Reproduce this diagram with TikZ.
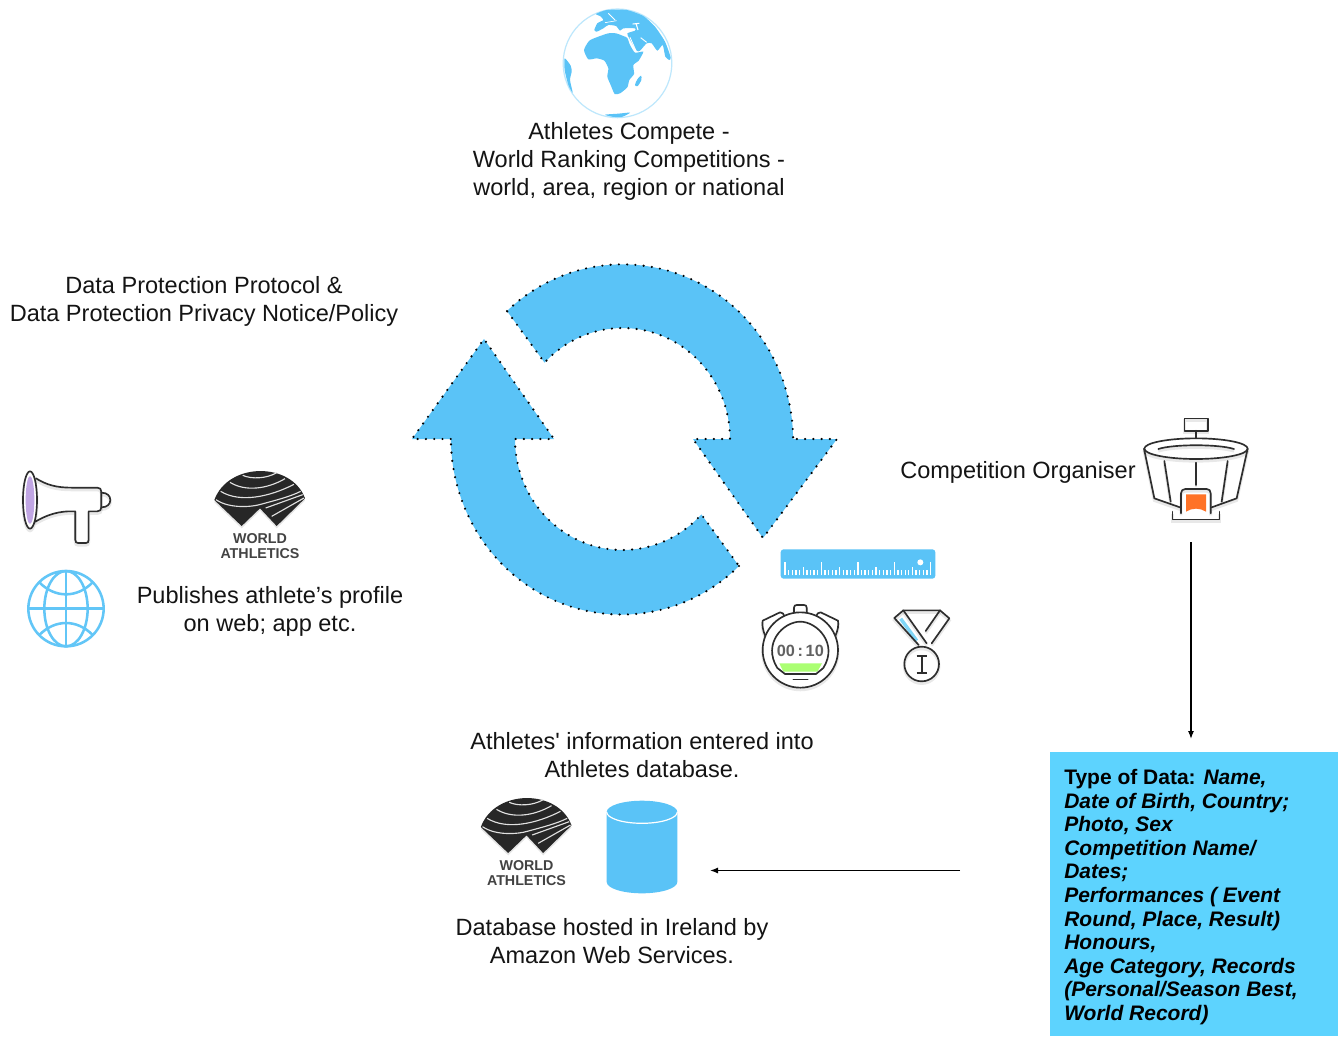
\documentclass[tikz,border=0pt]{standalone}
\usepackage{fontspec}
\usetikzlibrary{arrows.meta}
\setmainfont{Liberation Sans}
\newfontfamily\rawfam{Liberation Sans}
\definecolor{arrowblue}{HTML}{5AC3F7}
\definecolor{boxblue}{HTML}{5DD3FE}
\definecolor{ink}{HTML}{2E2E2E}
\tikzset{
  lbl/.style={font=\fontsize{17.65}{20.7}\selectfont,align=center,inner sep=0pt,text=black!92},
  cycleshape/.style={fill=arrowblue,draw=black,line width=1.8pt,line cap=round,dash pattern=on 0pt off 6.2pt},
  iconline/.style={draw=ink,line width=1.25pt,line join=round,line cap=round,
    preaction={draw=black,opacity=.09,line width=2.2pt,transform canvas={yshift=-1.6pt}}},
  flow/.style={draw=black,line width=.9pt,-{Latex[length=6pt,width=4.5pt]}},
  wlbl/.style={inner sep=0pt,align=center,text=ink!90,font=\fontsize{10.7}{11.2}\selectfont\bfseries}
}
\newcommand{\walogo}[3]{%
  \begin{scope}[shift={(#1,#2)},scale=1/3]
    \fill[black,opacity=.10] (643,157) .. controls (685,42) and (875,42) .. (915,152) -- (830,235) -- (780,182) -- (725,235) -- cycle;
    \fill[ink!85!black] (643,150) .. controls (685,35) and (875,35) .. (915,145) -- (830,228) -- (780,175) -- (725,228) -- cycle;
    \begin{scope}[draw=white!88!black,line width=.85pt]
      \draw (728,76) .. controls (755,88) and (800,86) .. (830,68);
      \draw (690,97) .. controls (735,125) and (800,118) .. (855,86);
      \draw (662,124) .. controls (720,160) and (810,140) .. (882,103);
      \draw (648,149) .. controls (690,178) and (760,170) .. (782,163) .. controls (830,150) and (870,140) .. (902,124);
      \draw (797,174) -- (908,134);
      \draw (815,199) -- (912,144);
    \end{scope}
    \node[wlbl] (#3) at (780,289) {WORLD\\ATHLETICS};
  \end{scope}}
\begin{document}
\begin{tikzpicture}[x=.75pt,y=.75pt,yscale=-1]
\useasboundingbox (0,0) rectangle (1343,1036);
\fill[white] (0,0) rectangle (1343,1036);

% ---------- globe
\begin{scope}[shift={(540,0)},scale=1/3]
  \draw[draw=arrowblue!40,line width=.9pt] (232.5,190) circle[radius=163];
  \fill[arrowblue] plot[smooth cycle,tension=.35] coordinates {(168,42)(200,30)(260,30)(310,48)(345,80)(375,125)(392,172)(388,180)(376,170)(368,135)(352,152)(335,130)(320,130)(300,152)(290,152)(268,115)(262,100)(285,92)(285,85)(250,85)(240,92)(228,78)(205,75)(190,85)(170,95)(163,90)(172,70)(190,60)(180,48)};
  \fill[arrowblue] plot[smooth cycle,tension=.35] coordinates {(132,150)(148,122)(175,110)(205,100)(228,100)(250,108)(262,114)(270,135)(285,158)(310,155)(296,182)(280,195)(282,222)(268,240)(262,262)(240,280)(224,282)(212,255)(202,230)(205,205)(193,182)(170,175)(145,178)};
  \fill[arrowblue] plot[smooth cycle,tension=.5] coordinates {(285,255)(292,238)(303,227)(304,240)(293,258)};
  \fill[arrowblue] plot[smooth cycle,tension=.4] coordinates {(74,175)(92,197)(95,215)(90,240)(98,278)(85,255)(74,210)};
  \fill[arrowblue] plot[smooth cycle,tension=.4] coordinates {(195,344)(235,341)(270,338)(245,351)(215,350)};
  \draw[white,line width=.7pt] (302,113) -- (320,127);
  \draw[white,line width=.8pt] (278,72) -- (298,70) (288,70) -- (294,90);
  \draw[white,line width=.7pt] (205,40) -- (225,60);
  \draw[white,line width=.5pt] (195,68) -- (230,62);
  \draw[white,line width=.6pt] (270,112) -- (288,152);
\end{scope}

\node[lbl] (compete) at (629,161.5) {Athletes Compete -\\World Ranking Competitions -\\world, area, region or national};
\node[lbl] (protocol) at (204,301.5) {Data Protection Protocol \&\\Data Protection Privacy Notice/Policy};

% ---------- cycle arrows
\path[cycleshape]
  (507,311) arc[x radius=170.5,y radius=176,start angle=227.3,end angle=360]
  -- (793,439) -- (837,439) -- (763,538) -- (693,439) -- (730,439)
  arc[x radius=107.5,y radius=111,start angle=360,end angle=223.5] -- cycle;
\path[cycleshape]
  (739,566) arc[x radius=170.5,y radius=176,start angle=46.4,end angle=180]
  -- (452,439) -- (412,439) -- (484,339) -- (554,439) -- (515,439)
  arc[x radius=107.5,y radius=111,start angle=180,end angle=42.8] -- cycle;

% ---------- megaphone
\begin{scope}[shift={(0,450)},scale=1/3]
  \path[iconline] (108,85) .. controls (140,105) and (170,113) .. (215,113) -- (292,113) .. controls (300,113) and (304,117) .. (304,125) -- (304,172) .. controls (304,180) and (300,184) .. (292,184) -- (266,184) -- (266,270) .. controls (266,276) and (263,279) .. (258,279) -- (234,279) .. controls (229,279) and (226,276) .. (226,270) -- (226,184) -- (205,184) .. controls (165,186) and (135,198) .. (106,215);
  \path[iconline] (304,128) .. controls (322,128) and (331,138) .. (331,150) .. controls (331,162) and (322,172) .. (304,172);
  \path[iconline,fill=white] (90,150) ellipse[x radius=21,y radius=86];
  \fill[violet!60!blue!35!white] (90,150) ellipse[x radius=13,y radius=72];
  % web globe
  \begin{scope}[draw=arrowblue!95!white,line width=1.9pt]
    \draw (198,476) circle[radius=113];
    \draw (198,476) ellipse[x radius=65,y radius=113];
    \draw (198,363) -- (198,589) (85,476) -- (311,476);
    \draw (118,397) .. controls (165,445) and (231,445) .. (278,397);
    \draw (118,555) .. controls (165,507) and (231,507) .. (278,555);
  \end{scope}
\end{scope}

\walogo{0}{450}{logoa}
\walogo{266.5}{777}{logob}

\node[lbl] (publishes) at (270,611.5) {Publishes athlete’s profile\\on web; app etc.};

% ---------- ruler
\begin{scope}[shift={(740,530)},scale=1/3]
  \fill[arrowblue,rounded corners=2.2pt] (122,58) rectangle (586,146);
  \foreach \i in {0,...,40} {
    \pgfmathsetmacro{\xx}{135+\i*10.925}
    \pgfmathtruncatemacro{\md}{mod(\i,10)}
    \pgfmathtruncatemacro{\mf}{mod(\i,5)}
    \pgfmathsetmacro{\tp}{\md==0?97:(\mf==0?110:120)}
    \draw[white,line width=1pt] (\xx,136) -- (\xx,\tp);
  }
  \fill[white] (541,97) circle[radius=9];
  % stopwatch
  \path[iconline,fill=white] (162,250) -- (162,233) .. controls (162,227) and (166,225) .. (170,225) -- (192,225) .. controls (197,225) and (200,227) .. (200,233) -- (200,250);
  \path[iconline,fill=white] (76,318) .. controls (68,300) and (66,285) .. (68,272) -- (120,247) .. controls (127,245) and (131,252) .. (134,262);
  \path[iconline,fill=white] (286,318) .. controls (294,300) and (296,285) .. (294,272) -- (242,247) .. controls (235,245) and (231,252) .. (228,262);
  \path[iconline,fill=white] (181,360) circle[radius=113];
  \fill[green!60!yellow!55!white] (118,400) -- (246,400) -- (232,425) -- (130,425) -- cycle;
  \draw[ink,line width=1.25pt,line join=round] (135,432) -- (228,432) -- (250,414) .. controls (296,340) and (230,275) .. (181,275) .. controls (130,275) and (66,340) .. (112,414) -- cycle;
  \draw[ink,line width=1.25pt,line cap=round] (160,448) -- (203,448);
  \node[inner sep=0pt,text=ink!75,font=\fontsize{12.2}{13}\selectfont\bfseries] (clock) at (181,362) {00\,:\,10};
  % medal
  \draw[line width=2.6pt,draw=cyan!50!white] (482,266) -- (530,332);
  \path[iconline] (545,402) circle[radius=52];
  \draw[ink,line width=1.25pt] (545,378) -- (545,428) (530,378) -- (560,378) (530,428) -- (560,428);
  \path[iconline] (536,345) -- (463,264) -- (490,241) -- (600,241) -- (628,265) -- (575,340);
  \path[iconline] (490,241) -- (560,340);
  \path[iconline] (600,241) -- (557,303);
\end{scope}

% ---------- stadium
\begin{scope}[shift={(1120,400)},scale=1/3]
  \path[iconline] (193,55) rectangle (263,92);
  \path[iconline] (228,92) -- (228,115);
  \path[iconline,fill=white] (228,146) ellipse[x radius=155,y radius=31];
  \path[iconline] (115,147) .. controls (160,132) and (296,132) .. (342,147);
  \path[iconline] (72,146) -- (103,295) -- (180,322);
  \path[iconline] (383,146) -- (350,295) -- (275,322);
  \path[iconline] (133,183) -- (152,305);
  \path[iconline] (228,188) -- (228,255);
  \path[iconline] (323,183) -- (305,305);
  \fill[orange!70!red!85!white] (198,283) -- (258,283) -- (258,335) .. controls (240,323) and (216,323) .. (198,335) -- cycle;
  \path[iconline] (183,340) -- (183,280) .. controls (183,272) and (188,267) .. (196,267) -- (260,267) .. controls (268,267) and (272,272) .. (272,280) -- (272,340);
  \path[iconline] (157,335) -- (157,358) -- (298,358) -- (298,335);
\end{scope}

\node[lbl] (organiser) at (1018,472) {Competition Organiser};
\coordinate (stadiumout) at (1191,542);
\coordinate (boxin) at (1191,739);
\draw[flow] (stadiumout) -- (boxin);

% ---------- data box
\node[fill=boxblue,minimum width=216pt,minimum height=213pt,inner sep=0pt,anchor=north west] (databox) at (1050,752) {};
\node[anchor=north west,inner sep=0pt,align=left,text=black,font=\fontsize{15.75}{17.7}\selectfont\bfseries] (datatext) at (1064,769) {Type of Data: \textit{Name,}\\\textit{Date of Birth, Country;}\\\textit{Photo, Sex}\\\textit{Competition Name/}\\\textit{Dates;}\\\textit{Performances ( Event}\\\textit{Round, Place, Result)}\\\textit{Honours,}\\\textit{Age Category, Records}\\\textit{(Personal/Season Best,}\\\textit{World Record)}};

% ---------- database
\node[lbl] (entered) at (642,755) {Athletes{\rawfam '} information entered into\\Athletes database.};
\fill[arrowblue] (606.7,812) -- (606.7,882) arc[x radius=35.3,y radius=11.3,start angle=180,end angle=0] -- (677.3,812) arc[x radius=35.3,y radius=11.3,start angle=0,end angle=-180] -- cycle;
\draw[white,line width=.9pt] (606.7,812) arc[x radius=35.3,y radius=11.3,start angle=180,end angle=0];
\coordinate (dbin) at (710,870.5);
\coordinate (boxout) at (960,870.5);
\draw[flow] (boxout) -- (dbin);
\node[lbl] (hosted) at (612,941) {Database hosted in Ireland by\\Amazon Web Services.};
\end{tikzpicture}
\end{document}
